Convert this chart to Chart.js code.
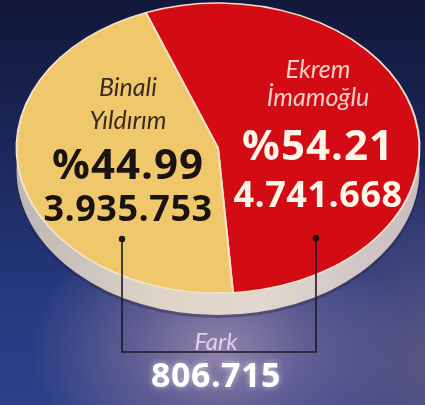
<!DOCTYPE html>
<html>
<head>
<meta charset="utf-8">
<script src="https://cdn.jsdelivr.net/npm/chart.js@4/dist/chart.umd.min.js"></script>
<style>
  html, body { margin:0; padding:0; }
  body {
    width:425px; height:405px; overflow:hidden; position:relative;
    background:
      radial-gradient(ellipse 190px 140px at 220px 350px, rgba(150,136,172,0.95) 0%, rgba(120,108,155,0.7) 45%, rgba(60,70,130,0) 100%),
      radial-gradient(ellipse 120px 200px at 420px 360px, rgba(110,95,130,0.7) 0%, rgba(60,60,110,0) 100%),
      linear-gradient(to bottom, #12183a 0%, #1b2658 35%, #263a80 75%, #2c4088 100%);
  }
  #c { position:absolute; left:0; top:0; }
  .t { position:absolute; white-space:nowrap; transform:translateX(-50%); line-height:1; }
  .name { font-family:"Lato", sans-serif; font-style:italic; font-weight:400; }
  .num { font-family:"Open Sans", sans-serif; font-weight:700; }
  svg { position:absolute; left:0; top:0; }
</style>
</head>
<body>
<canvas id="c" width="425" height="405"></canvas>
<svg width="425" height="405" id="br"></svg>
<div id="labels"></div>
<script>
// ---- data ----
const candidates = ['Ekrem İmamoğlu', 'Binali Yıldırım'];
const nameLines = [['Ekrem', 'İmamoğlu'], ['Binali', 'Yıldırım']];
const shares = [54.21, 44.99];
const shareLabels = ['%54.21', '%44.99'];
const voteLabels = ['4.741.668', '3.935.753'];
const diffTitle = 'Fark';
const diffValue = '806.715';

// ---- styles ----
const colors = ['#d20b14', '#f0c86c'];
const ELL = { cx: 218, cy: 148, sy: 0.72, rim: 22 };

const ellipsePlugin = {
  id: 'ellipse',
  beforeDatasetsDraw(chart) {
    const ctx = chart.ctx;
    const arc = chart.getDatasetMeta(0).data[0];
    const r = arc.outerRadius;
    ctx.save();
    // rim (side of the disc)
    const g = ctx.createLinearGradient(ELL.cx - r, 0, ELL.cx + r, 0);
    g.addColorStop(0, '#bdb6b6');
    g.addColorStop(0.35, '#ddd4c6');
    g.addColorStop(0.6, '#e2d8cf');
    g.addColorStop(1, '#c8bcc0');
    ctx.beginPath();
    ctx.ellipse(ELL.cx, ELL.cy + ELL.rim + 2, r + 1, r * ELL.sy + 1, 0, 0, Math.PI * 2);
    ctx.fillStyle = 'rgba(40,30,60,0.35)';
    ctx.fill();
    ctx.beginPath();
    ctx.ellipse(ELL.cx, ELL.cy + ELL.rim, r, r * ELL.sy, 0, 0, Math.PI * 2);
    ctx.fillStyle = g;
    ctx.fill();
    ctx.translate(ELL.cx, ELL.cy);
    ctx.scale(1, ELL.sy);
    ctx.translate(-arc.x, -arc.y);
  },
  afterDatasetsDraw(chart) {
    chart.ctx.restore();
  }
};

new Chart(document.getElementById('c'), {
  type: 'pie',
  data: {
    labels: candidates,
    datasets: [{
      data: shares,
      backgroundColor: colors,
      borderColor: '#f4e2cc',
      borderWidth: 2
    }]
  },
  options: {
    responsive: false,
    animation: false,
    events: [],
    rotation: -21,
    layout: { padding: { left: 15, right: 4, top: 0, bottom: 0 } },
    plugins: { legend: { display: false }, tooltip: { enabled: false } }
  },
  plugins: [ellipsePlugin]
});

// ---- text labels ----
const labelPos = [
  { x: 318, name: [56, 84], share: 123, vote: 176, nameColor: '#f6cfc6', numColor: '#fff6ea' },
  { x: 128, name: [74, 107], share: 142, vote: 190, nameColor: '#3a2a1e', numColor: '#1a1312' }
];
const wrap = document.getElementById('labels');
function addText(cls, txt, x, y, size, color, extra) {
  const d = document.createElement('div');
  d.className = 't ' + cls;
  d.textContent = txt;
  d.style.left = x + 'px';
  d.style.top = y + 'px';
  d.style.fontSize = size + 'px';
  d.style.color = color;
  if (extra) Object.assign(d.style, extra);
  wrap.appendChild(d);
}
candidates.forEach((c, i) => {
  const p = labelPos[i];
  addText('name', nameLines[i][0], p.x, p.name[0], 25, p.nameColor);
  addText('name', nameLines[i][1], p.x, p.name[1], 25, p.nameColor);
  addText('num', shareLabels[i], p.x, p.share, 42, p.numColor, { letterSpacing: '1px' });
  addText('num', voteLabels[i], p.x, p.vote, 36, p.numColor, { letterSpacing: '0.5px' });
});
addText('name', diffTitle, 216, 329, 24, '#dcd4ea');
addText('num', diffValue, 216, 357, 34, '#ffffff', { textShadow: '0 0 6px rgba(255,255,255,0.6)', letterSpacing: '0.5px' });

// bracket connecting the two vote figures
const svg = document.getElementById('br');
svg.innerHTML =
  '<polyline points="122,239 122,352 316,352 316,238" fill="none" stroke="#1c1826" stroke-width="1.6"/>' +
  '<circle cx="122" cy="239" r="3.2" fill="#1c1826"/>' +
  '<circle cx="316" cy="238" r="3.2" fill="#2a0a0e"/>';
</script>
</body>
</html>
